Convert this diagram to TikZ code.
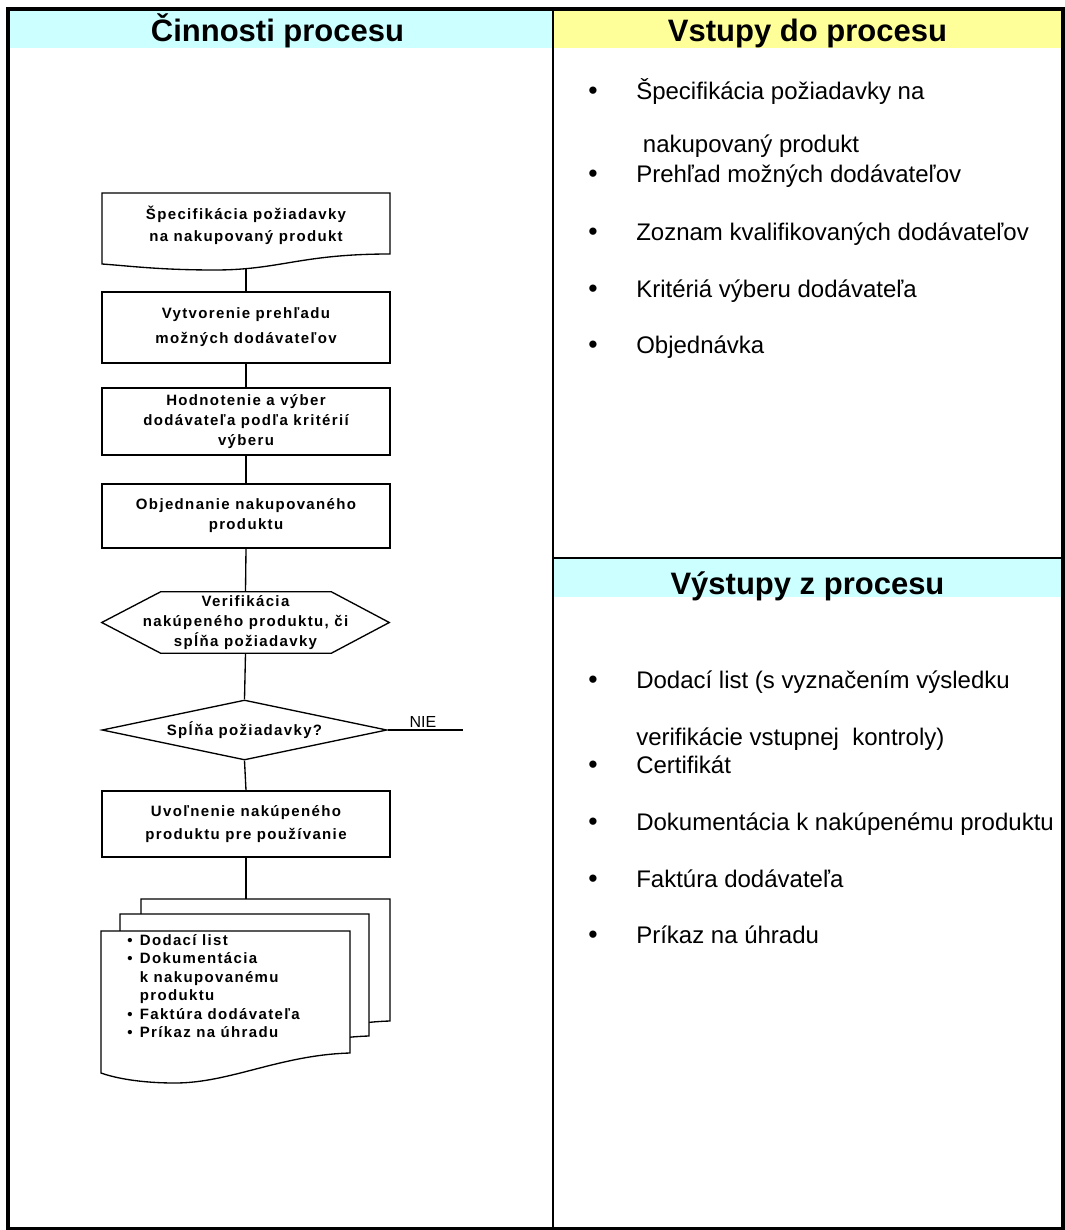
\documentclass[tikz,border=0pt]{standalone}
\usepackage{fontspec}
\setmainfont{Liberation Sans}
\newfontfamily\flowfont{Liberation Sans}[LetterSpace=9]
\usetikzlibrary{shapes.geometric,calc}
\definecolor{headcyan}{HTML}{CCFFFF}
\definecolor{headyellow}{HTML}{FFFF99}
\newcommand\flowsz[1]{\flowfont\bfseries\fontsize{11.25}{#1}\selectfont}
\begin{document}
\begin{tikzpicture}[x=0.75pt,y=-0.75pt,
  frame/.style={line width=3pt},
  divider/.style={line width=1.6pt},
  header/.style={font={\fontsize{23.25}{27}\selectfont\bfseries}, anchor=base, inner sep=0},
  item/.style={font={\fontsize{18}{21}\selectfont}, anchor=base west, inner sep=0},
  bul/.style={font={\fontsize{20}{21}\selectfont}, anchor=base, inner sep=0},
  flow/.style={line width=1pt, draw=black},
  stepbox/.style={flow, rectangle, minimum width=216pt, inner sep=0, align=center},
  link/.style={line width=1pt}
]
\useasboundingbox (0,0) rectangle (1064,1230);

% column heads and frame
\fill[headcyan] (8,9) rectangle (553,48);
\fill[headyellow] (553,9) rectangle (1062,48);
\fill[headcyan] (553,558) rectangle (1062,597);
\draw[divider] (553,9) -- (553,1229);
\draw[divider] (553,558) -- (1062,558);
\draw[frame] (8,9) rectangle (1062.5,1228.5);

\node[header] (hact) at (277.5,42) {Činnosti procesu};
\node[header] (hin) at (807.5,42) {Vstupy do procesu};
\node[header] (hout) at (807.5,594) {Výstupy z procesu};

% inputs
\node[bul] (ib1) at (593,100) {•};
\node[item] (i1) at (636,100) {Špecifikácia požiadavky na};
\node[item] (i1b) at (636,153) {\ nakupovaný produkt};
\node[bul] (ib2) at (593,183) {•};
\node[item] (i2) at (636,183) {Prehľad možných dodávateľov};
\node[bul] (ib3) at (593,241) {•};
\node[item] (i3) at (636,241) {Zoznam kvalifikovaných dodávateľov};
\node[bul] (ib4) at (593,297) {•};
\node[item] (i4) at (636,297) {Kritériá výberu dodávateľa};
\node[bul] (ib5) at (593,353) {•};
\node[item] (i5) at (636,353) {Objednávka};

% outputs
\node[bul] (ob1) at (593,688) {•};
\node[item] (o1) at (636,688) {Dodací list (s vyznačením výsledku};
\node[item] (o1b) at (636,745) {verifikácie vstupnej\ \ kontroly)};
\node[bul] (ob2) at (593,773) {•};
\node[item] (o2) at (636,773) {Certifikát};
\node[bul] (ob3) at (593,830) {•};
\node[item] (o3) at (636,830) {Dokumentácia k nakúpenému produktu};
\node[bul] (ob4) at (593,887) {•};
\node[item] (o4) at (636,887) {Faktúra dodávateľa};
\node[bul] (ob5) at (593,943) {•};
\node[item] (o5) at (636,943) {Príkaz na úhradu};

% flowchart
\draw[flow] (102,193) -- (390,193) -- (390,254)
  .. controls (300,254) and (280,270) .. (215,270)
  .. controls (160,270) and (130,266) .. (102,264) -- cycle;
\node[inner sep=0, align=center, font={\flowsz{16.5}}] (b1) at (246,225) {Špecifikácia požiadavky\\na nakupovaný produkt};
\coordinate (b1out) at (246,268);

\node[stepbox, minimum height=53.25pt, font={\flowsz{18.75}}] (b2) at (246,327.5) {Vytvorenie prehľadu\\možných dodávateľov};
\node[stepbox, minimum height=50.25pt, font={\flowsz{15}}] (b3) at (246,421.5) {Hodnotenie a výber\\dodávateľa podľa kritérií\\výberu};
\node[stepbox, minimum height=48pt, font={\flowsz{15}}] (b4) at (246,516) {Objednanie nakupovaného\\produktu};

\node[minimum width=215.25pt, minimum height=45.75pt, inner sep=0, align=center, font={\flowsz{15}}] (ver) at (245.5,622.5) {Verifikácia\\nakúpeného produktu, či\\spĺňa požiadavky};
\draw[flow] (ver.west) -- ($(ver.north west)+(59,0)$) -- ($(ver.north east)+(-58,0)$)
  -- (ver.east) -- ($(ver.south east)+(-58,0)$) -- ($(ver.south west)+(59,0)$) -- cycle;

\node[flow, diamond, shape aspect=4.75, minimum width=213.75pt, minimum height=45pt, inner sep=0, font={\flowsz{15}}] (dec) at (244.5,730) {Spĺňa požiadavky?};
\coordinate (nie) at (463,730);
\node[font={\fontsize{12}{14}\selectfont}, anchor=base, inner sep=0] (nielbl) at (423,727) {NIE};

\node[stepbox, minimum height=49.5pt, font={\flowsz{17.25}}] (b5) at (246,824) {Uvoľnenie nakúpeného\\produktu pre používanie};

% stacked documents
\foreach \dx/\dy in {40/-32,19/-17,0/0}
  \draw[flow, fill=white, shift={(\dx,\dy)}] (101,931) -- (350,931) -- (350,1053)
    .. controls (280,1055) and (230,1083) .. (175,1083)
    .. controls (140,1083) and (115,1078) .. (101,1073) -- cycle;
\coordinate (docin) at (246,899);
\node[anchor=north west, inner sep=0, font={\flowsz{13.9}}] (doclist) at (127,932)
  {\begin{tabular}{@{}l@{\hspace{5.5pt}}l@{}}
   • & Dodací list\\
   • & Dokumentácia\\
     & k nakupovanému\\
     & produktu\\
   • & Faktúra dodávateľa\\
   • & Príkaz na úhradu
   \end{tabular}};

% connectors
\draw[link] (b1out) -- (b2.north);
\draw[link] (b2.south) -- (b3.north);
\draw[link] (b3.south) -- (b4.north);
\draw[link] (b4.south) -- (ver.north);
\draw[link] (ver.south) -- (dec.north);
\draw[link] (dec.south) -- (b5.north);
\draw[link] (b5.south) -- (docin);
\draw[link] (dec.east) -- (nie);
\end{tikzpicture}
\end{document}
